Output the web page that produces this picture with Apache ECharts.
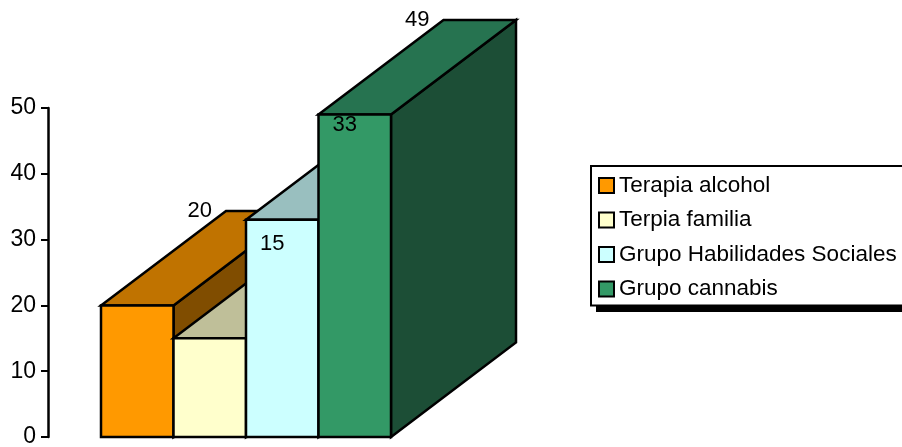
<!DOCTYPE html>
<html>
<head>
<meta charset="utf-8">
<style>html,body{margin:0;padding:0;background:#fff}#chart{width:902px;height:447px}</style>
<script src="https://cdn.jsdelivr.net/npm/echarts@6/dist/echarts.min.js"></script>
</head>
<body>
<div id="chart"></div>
<script>
const categories = ['Terapia alcohol', 'Terpia familia', 'Grupo Habilidades Sociales', 'Grupo cannabis'];
const values = [20, 15, 33, 49];
const yTicks = { min: 0, max: 50, interval: 10 };
const frontColors = ['#FF9900', '#FFFFCC', '#CCFFFF', '#339966'];
const topColors = ['#C07300', '#BFBF99', '#99BFBF', '#267350'];
const sideColors = ['#804D00', '#80805F', '#668080', '#1C4E36'];

const FONT = '"Liberation Sans", Arial, sans-serif';
const DEPTH_X = 125;
const DEPTH_Y = 94.5;
const EDGE = { stroke: '#000', lineWidth: 2.5, lineJoin: 'miter' };

// Oblique box: front face from the value scale, top and side faces pushed back by the depth.
function renderBox(colorIndex) {
  return function (params, api) {
    const base = api.coord([api.value(0), 0]);
    const top = api.coord([api.value(0), api.value(1)]);
    const half = api.size([1, 0])[0] / 2;
    const l = base[0] - half, r = base[0] + half, y0 = base[1], y1 = top[1];
    const poly = (points, fill) => ({
      type: 'polygon',
      shape: { points },
      style: Object.assign({ fill }, EDGE)
    });
    return {
      type: 'group',
      children: [
        poly([[r, y0], [r + DEPTH_X, y0 - DEPTH_Y], [r + DEPTH_X, y1 - DEPTH_Y], [r, y1]], sideColors[colorIndex]),
        poly([[l, y1], [l + DEPTH_X, y1 - DEPTH_Y], [r + DEPTH_X, y1 - DEPTH_Y], [r, y1]], topColors[colorIndex]),
        poly([[l, y0], [r, y0], [r, y1], [l, y1]], frontColors[colorIndex])
      ]
    };
  };
}

// Value labels sit at the middle of each box's rear top edge.
function renderValueLabel(params, api) {
  const p = api.coord([api.value(0), api.value(1)]);
  return {
    type: 'text',
    style: {
      x: p[0] + DEPTH_X / 2,
      y: p[1] - DEPTH_Y,
      text: String(api.value(1)),
      font: '22px ' + FONT,
      fill: '#000',
      align: 'center',
      verticalAlign: 'middle'
    }
  };
}

const boxSeries = categories.map((name, i) => ({
  type: 'custom',
  name,
  coordinateSystem: 'cartesian2d',
  clip: false,
  z: 2 + i,
  itemStyle: { color: frontColors[i], borderColor: '#000', borderWidth: 2.5 },
  encode: { x: 0, y: 1 },
  renderItem: renderBox(i),
  data: [[i, values[i]]]
}));

const chart = echarts.init(document.getElementById('chart'), null, { renderer: 'canvas' });
chart.setOption({
  animation: false,
  backgroundColor: '#fff',
  // Hard drop shadow behind the legend box, which runs off the right edge.
  graphic: [{
    type: 'rect',
    z: 0,
    silent: true,
    shape: { x: 596, y: 172, width: 330, height: 140 },
    style: { fill: '#000' }
  }],
  grid: { left: 101, top: 108, width: 290, height: 329, containLabel: false, outerBoundsMode: 'none' },
  xAxis: {
    type: 'category',
    data: categories,
    boundaryGap: true,
    axisLine: { show: false },
    axisTick: { show: false },
    axisLabel: { show: false },
    splitLine: { show: false }
  },
  yAxis: {
    type: 'value',
    min: yTicks.min,
    max: yTicks.max,
    interval: yTicks.interval,
    offset: 53,
    axisLine: { show: true, lineStyle: { color: '#000', width: 2.5 } },
    axisTick: { show: true, length: 7, lineStyle: { color: '#000', width: 2 } },
    axisLabel: { color: '#000', fontFamily: FONT, fontSize: 23, margin: 12, padding: [2, 0, 0, 0] },
    splitLine: { show: false }
  },
  legend: {
    show: true,
    z: 5,
    data: categories,
    orient: 'vertical',
    left: 591,
    top: 166,
    padding: [8, 30, 5, 7],
    itemWidth: 15,
    itemHeight: 15,
    itemGap: 11.5,
    icon: 'rect',
    selectedMode: false,
    backgroundColor: '#fff',
    borderColor: '#000',
    borderWidth: 2,
    textStyle: { color: '#000', fontFamily: FONT, fontSize: 22.5, padding: [0, 0, 0, 0], lineHeight: 23 }
  },
  series: boxSeries.concat([{
    type: 'custom',
    coordinateSystem: 'cartesian2d',
    clip: false,
    z: 10,
    encode: { x: 0, y: 1 },
    renderItem: renderValueLabel,
    data: categories.map((c, i) => [i, values[i]])
  }])
});
</script>
</body>
</html>
